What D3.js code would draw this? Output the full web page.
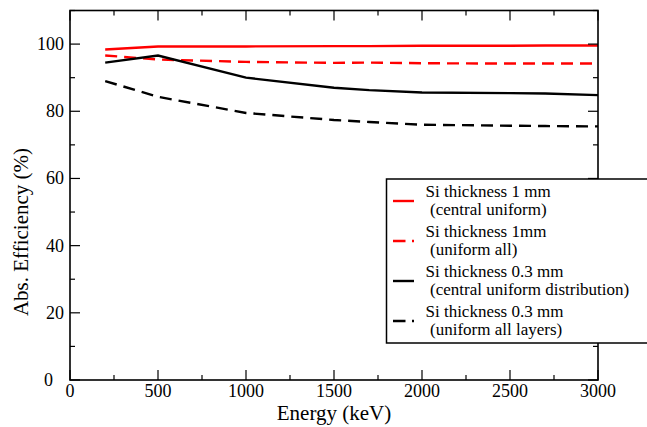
<!DOCTYPE html>
<html><head><meta charset="utf-8">
<script src="https://cdn.jsdelivr.net/npm/d3@7"></script>
</head><body style="margin:0">
<svg id="c" width="647" height="427"></svg>
<script>
const energies = [200, 500, 1000, 1500, 1700, 2000, 2500, 2700, 3000];
const redSolid = [98.4, 99.3, 99.3, 99.4, 99.4, 99.5, 99.5, 99.6, 99.6];
const redDashed = [96.6, 95.4, 94.7, 94.4, 94.5, 94.3, 94.2, 94.2, 94.2];
const blackSolid = [94.5, 96.6, 90.0, 87.0, 86.3, 85.6, 85.4, 85.3, 84.8];
const blackDashed = [89.0, 84.3, 79.5, 77.4, 76.8, 76.0, 75.7, 75.6, 75.5];
const legendLabels = [
  ["Si thickness 1 mm", "(central uniform)"],
  ["Si thickness 1mm", "(uniform all)"],
  ["Si thickness 0.3 mm", "(central uniform distribution)"],
  ["Si thickness 0.3 mm", "(uniform all layers)"]
];
const xTicks = [0, 500, 1000, 1500, 2000, 2500, 3000];
const yTicks = [0, 20, 40, 60, 80, 100];

const series = [
  {v: redSolid, color: "#ff0000", dash: null},
  {v: redDashed, color: "#ff0000", dash: "12,7"},
  {v: blackSolid, color: "#000000", dash: null},
  {v: blackDashed, color: "#000000", dash: "12,7"}
];

const FONT = "'Liberation Serif', 'Times New Roman', Times, serif";
const svg = d3.select("#c");
const L = 70, R = 598, T = 10.5, B = 380;
const x = d3.scaleLinear().domain([0, 3000]).range([L, R]);
const y = d3.scaleLinear().domain([0, 110]).range([B, T]);

function txt(sel, size) {
  return sel.append("text").attr("font-family", FONT)
    .style("font-family", FONT, "important")
    .style("font-size", size + "px", "important").attr("fill", "#000");
}

const line = d3.line().x((d, i) => x(energies[i])).y(d => y(d));
series.forEach(s => {
  svg.append("path").datum(s.v).attr("d", line)
    .attr("fill", "none").attr("stroke", s.color).attr("stroke-width", 2.4)
    .attr("stroke-dasharray", s.dash);
});

// ticks
const g = svg.append("g").attr("stroke", "#000").attr("stroke-width", 1.2);
const xMinor = d3.range(0, 3001, 250);
const yMinor = d3.range(0, 111, 10);
xMinor.forEach(v => {
  const len = v % 500 === 0 ? 10 : 5;
  g.append("line").attr("x1", x(v)).attr("x2", x(v)).attr("y1", B).attr("y2", B - len);
  g.append("line").attr("x1", x(v)).attr("x2", x(v)).attr("y1", T).attr("y2", T + len);
});
yMinor.forEach(v => {
  const len = v % 20 === 0 ? 10 : 5;
  g.append("line").attr("y1", y(v)).attr("y2", y(v)).attr("x1", L).attr("x2", L + len);
  g.append("line").attr("y1", y(v)).attr("y2", y(v)).attr("x1", R).attr("x2", R - len);
});

svg.append("rect").attr("x", L).attr("y", T).attr("width", R - L).attr("height", B - T)
  .attr("fill", "none").attr("stroke", "#000").attr("stroke-width", 1.6);

// tick labels
xTicks.forEach(v => {
  txt(svg, 18).attr("x", x(v)).attr("y", 397).attr("text-anchor", "middle").text(v);
});
yTicks.forEach(v => {
  txt(svg, 18).attr("x", v === 0 ? 53 : 64).attr("y", y(v) + 6).attr("text-anchor", "end").text(v);
});

txt(svg, 21).attr("x", 334).attr("y", 420).attr("text-anchor", "middle").text("Energy (keV)");
txt(svg, 21).attr("transform", "translate(28,232) rotate(-90)").attr("text-anchor", "middle")
  .text("Abs. Efficiency (%)");

// legend
const lg = svg.append("g");
lg.append("rect").attr("x", 386.5).attr("y", 179).attr("width", 300).attr("height", 164)
  .attr("fill", "#fff").attr("stroke", "#000").attr("stroke-width", 1.5);
series.forEach((s, i) => {
  const cy = 201 + i * 40;
  lg.append("line").attr("x1", 393).attr("x2", 414).attr("y1", cy).attr("y2", cy)
    .attr("stroke", s.color).attr("stroke-width", 2.4).attr("stroke-dasharray", s.dash ? "12.5,6.5" : null);
  txt(lg, 17).attr("x", 425.5).attr("y", cy - 4).text(legendLabels[i][0]);
  txt(lg, 17).attr("x", 430).attr("y", cy + 14).text(legendLabels[i][1]);
});
</script>
</body></html>
